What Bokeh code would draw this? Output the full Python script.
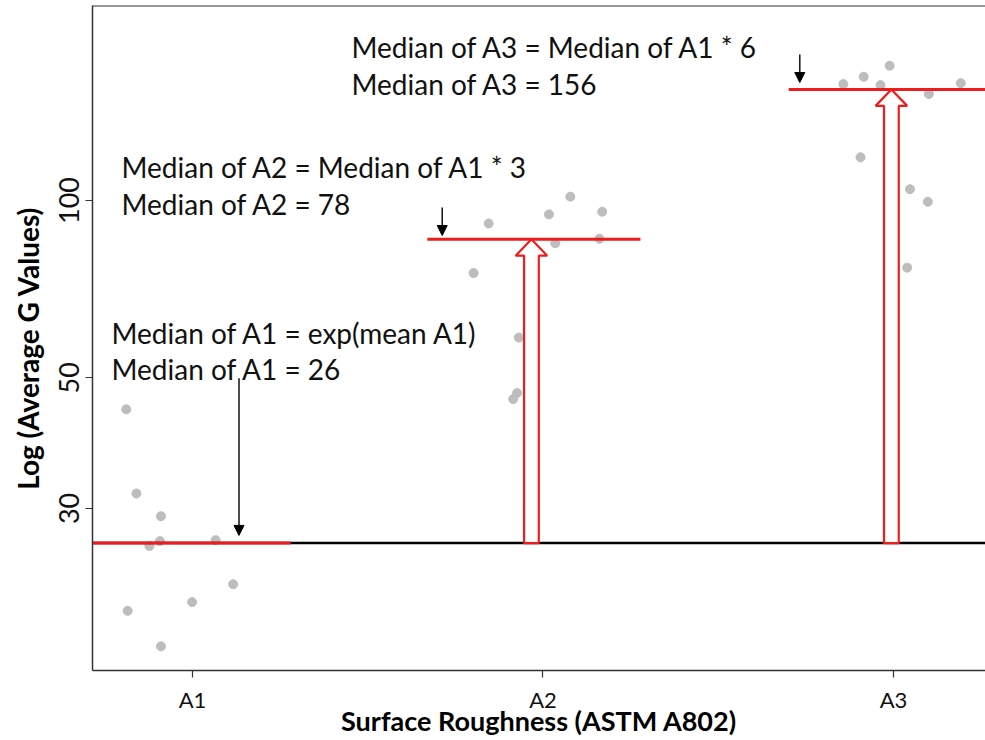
from bokeh.plotting import figure
from bokeh.models import Range1d, FixedTicker, Span, Arrow, NormalHead
from bokeh.core.properties import value
from bokeh.embed import file_html
from bokeh.resources import INLINE

# ---------------- data ----------------
categories = ["A1", "A2", "A3"]
a1_values = [44.2, 31.8, 29.1, 25.9, 26.4, 26.5, 22.3, 20.8, 20.1, 17.5]
a1_jitter = [-0.189, -0.160, -0.090, -0.123, -0.093, 0.066, 0.116, -0.001, -0.185, -0.090]
a2_values = [101.5, 95.7, 94.7, 91.4, 84.6, 86.1, 75.3, 58.5, 47.1, 46.0]
a2_jitter = [0.078, 0.169, 0.017, -0.155, 0.035, 0.161, -0.198, -0.069, -0.074, -0.085]
a3_values = [169.3, 162.2, 157.6, 157.0, 151.6, 158.2, 118.4, 104.5, 99.5, 76.9]
a3_jitter = [-0.011, -0.085, -0.143, -0.037, 0.101, 0.192, -0.094, 0.047, 0.098, 0.039]
median_levels = [26.2, 85.9, 154.3]          # medians as drawn
y_ticks = [30, 50, 100]
note_line1 = ["Median of A1 = exp(mean A1)",
              "Median of A2 = Median of A1 * 3",
              "Median of A3 = Median of A1 * 6"]
note_line2 = ["Median of A1 = 26", "Median of A2 = 78", "Median of A3 = 156"]
x_title = "Surface Roughness (ASTM A802)"
y_title = "Log (Average G Values)"

# ---------------- layout / style constants ----------------
X_START, X_END = 0.7147, 3.2625
Y_START, Y_END = 15.92, 214.3
seg_x0 = [X_START, 1.670, 2.701]
seg_x1 = [1.280, 2.278, X_END + 0.1]
hollow_center = [None, 1.967, 2.994]
shaft_half, head_half, head_factor = 0.021, 0.045, 1.066
note_x = [0.7689, 0.7974, 1.4536]
note_y1 = [59.5, 113.8, 182.1]
note_y2 = [51.7, 98.8, 157.8]
small_arrow_x = [1.1327, 1.7124, 2.7327]
small_arrow_y0 = [49.9, 97.3, 177.0]
small_arrow_y1 = [27.0, 87.2, 158.6]

FONT = "Lato"
AXIS_COLOR = "#333333"
RED = "#ee1c1c"

p = figure(width=985, height=740,
           x_range=Range1d(X_START, X_END), y_range=Range1d(Y_START, Y_END),
           y_axis_type="log", output_backend="svg", toolbar_location=None,
           min_border_left=92, min_border_right=0, min_border_top=5, min_border_bottom=70)
p.grid.visible = False
p.outline_line_color = None
p.background_fill_color = "white"
p.border_fill_color = "white"

# points
xs, ys = [], []
for i, (vals, jit) in enumerate([(a1_values, a1_jitter), (a2_values, a2_jitter), (a3_values, a3_jitter)]):
    for v, j in zip(vals, jit):
        xs.append(i + 1 + j)
        ys.append(v)
p.scatter(x=xs, y=ys, size=9, fill_color="#bdbdbd", line_color="#bdbdbd")

# baseline (A1 median across the plot)
p.segment(x0=[X_START], y0=[median_levels[0]], x1=[X_END + 0.1], y1=[median_levels[0]],
          line_color="black", line_width=2.5)

# red median segments
p.segment(x0=seg_x0, y0=median_levels, x1=seg_x1, y1=median_levels,
          line_color=RED, line_width=3)

# hollow block arrows
pxs, pys = [], []
for i in (1, 2):
    c = hollow_center[i]
    base = median_levels[0]
    tip = median_levels[i]
    hb = tip / head_factor
    pxs.append([c - shaft_half, c - shaft_half, c - head_half, c, c + head_half, c + shaft_half, c + shaft_half])
    pys.append([base, hb, hb, tip, hb, hb, base])
p.patches(xs=pxs, ys=pys, fill_color="white", line_color=RED, line_width=2.2)

# small black arrows
for x, y0, y1 in zip(small_arrow_x, small_arrow_y0, small_arrow_y1):
    p.add_layout(Arrow(x_start=x, y_start=y0, x_end=x, y_end=y1, line_color="black", line_width=1.4,
                       end=NormalHead(size=10, fill_color="black", line_color="black")))

# annotation texts
p.text(x=note_x, y=note_y1, text=note_line1, text_font=value(FONT), text_font_size="28px",
       text_color="#111111", text_baseline="alphabetic", text_align="left")
p.text(x=note_x, y=note_y2, text=note_line2, text_font=value(FONT), text_font_size="28px",
       text_color="#111111", text_baseline="alphabetic", text_align="left")

# top border
p.add_layout(Span(location=Y_END, dimension="width", line_color=AXIS_COLOR, line_width=2))

# axes
p.xaxis.ticker = FixedTicker(ticks=[1, 2, 3])
p.xaxis.major_label_overrides = {1: categories[0], 2: categories[1], 3: categories[2]}
p.yaxis.ticker = FixedTicker(ticks=y_ticks, minor_ticks=[])
p.yaxis.major_label_overrides = {t: str(t) for t in y_ticks}
p.yaxis.major_label_orientation = "vertical"

for ax in (p.xaxis[0], p.yaxis[0]):
    ax.axis_line_color = AXIS_COLOR
    ax.axis_line_width = 1.5
    ax.major_tick_line_color = AXIS_COLOR
    ax.major_tick_line_width = 1.2
    ax.major_tick_in = 0
    ax.major_tick_out = 7
    ax.minor_tick_line_color = None
    ax.major_label_text_font = FONT
    ax.major_label_text_color = "#111111"
    ax.axis_label_text_font = FONT
    ax.axis_label_text_font_style = "bold"
    ax.axis_label_text_color = "black"

p.xaxis.axis_label = x_title
p.xaxis.major_label_text_font_size = "22px"
p.xaxis.major_label_standoff = 8
p.xaxis.axis_label_text_font_size = "27px"
p.xaxis.axis_label_standoff = -12

p.yaxis.axis_label = y_title + "\u00a0\u00a0\u00a0"
p.yaxis.axis_label_text_font_size = "28px"
p.yaxis.major_label_text_font_size = "27px"
p.yaxis.major_label_standoff = 6
p.yaxis.axis_label_standoff = 12

open("out.html", "w").write(file_html(p, INLINE))
